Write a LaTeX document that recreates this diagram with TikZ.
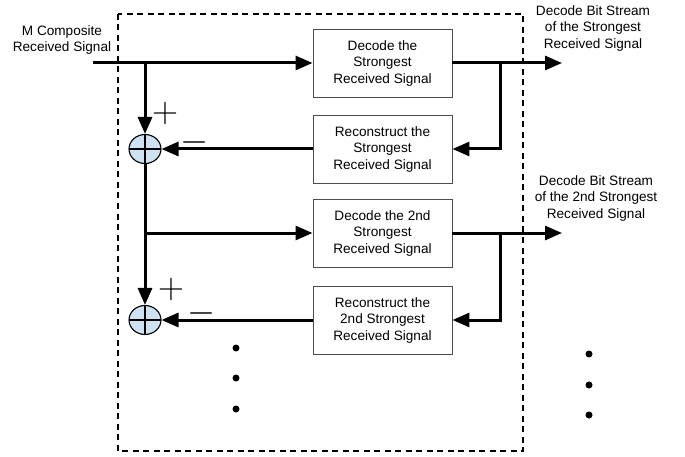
\documentclass[tikz,border=0pt]{standalone}
\usepackage{fontspec}
\setmainfont{Liberation Sans}
\usetikzlibrary{arrows.meta,shapes.geometric}

\definecolor{sumblue}{RGB}{207,226,243}

\tikzset{
  blk/.style={draw=black!70,line width=0.9pt,minimum width=139pt,minimum height=68pt,
    align=center,inner sep=2pt,font=\fontsize{13.6}{16.5}\selectfont},
  lbl/.style={align=center,font=\fontsize{13.6}{16.5}\selectfont},
  wire/.style={line width=3pt},
  sig/.style={wire,-{Triangle[length=17pt,width=14pt]}},
  adder/.style={ellipse,draw,line width=1.1pt,fill=sumblue,minimum width=32pt,minimum height=29pt,inner sep=0pt,
    path picture={\draw[line width=1.1pt] (path picture bounding box.north) -- (path picture bounding box.south)
      (path picture bounding box.west) -- (path picture bounding box.east);}},
  sgn/.style={inner sep=0pt,font=\fontsize{24.88}{25}\selectfont},
  dot/.style={circle,fill,inner sep=0pt,minimum size=7pt}
}

\begin{document}
\begin{tikzpicture}[x=1pt,y=-1pt]
\useasboundingbox (0,0) rectangle (685,457);

% dashed receiver boundary
\draw[line width=1.2pt,dash pattern=on 6pt off 4.5pt] (118,14) rectangle (523,451);

% blocks
\node[blk] (dec1) at (382.5,63) {Decode the\\Strongest\\Received Signal};
\node[blk] (rec1) at (382.5,149) {Reconstruct the\\Strongest\\Received Signal};
\node[blk] (dec2) at (382.5,233) {Decode the 2nd\\Strongest\\Received Signal};
\node[blk] (rec2) at (382.5,320) {Reconstruct the\\2nd Strongest\\Received Signal};

\node[adder] (sum1) at (145,149) {};
\node[adder] (sum2) at (145,320) {};

% labels
\node[lbl] (inlbl) at (62,40) {M Composite\\Received Signal};
\node[lbl] (out1lbl) at (593,28) {Decode Bit Stream\\of the Strongest\\Received Signal};
\node[lbl] (out2lbl) at (596,198) {Decode Bit Stream\\of the 2nd Strongest\\Received Signal};

\node[sgn] (plus1) at (165,113) {\scalebox{1.45}{$+$}};
\node[sgn] (minus1) at (195,142) {\scalebox{1.45}{$-$}};
\node[sgn] (plus2) at (171,289) {\scalebox{1.45}{$+$}};
\node[sgn] (minus2) at (202,313) {\scalebox{1.45}{$-$}};

% junctions and free ends
\coordinate (in) at (93,63);
\coordinate (tap1) at (145,63);
\coordinate (tap2) at (145,233);
\coordinate (tapA) at (500,63);
\coordinate (tapB) at (500,233);
\coordinate (out1) at (562,63);
\coordinate (out2) at (562,233);

% signal paths
\draw[sig] (in) -- (dec1);
\draw[sig] (tap1) -- (sum1);
\draw[sig] (dec1) -- (out1);
\draw[sig] (tapA) |- (rec1.east);
\draw[sig] (rec1) -- (sum1);
\draw[sig] (sum1) -- (sum2);
\draw[sig] (tap2) -- (dec2);
\draw[sig] (dec2) -- (out2);
\draw[sig] (tapB) |- (rec2.east);
\draw[sig] (rec2) -- (sum2);

% continuation dots
\foreach \yy [count=\i] in {348,378,409} {
  \node[dot] (din\i) at (236,\yy) {};
}
\foreach \yy [count=\i] in {354,385,415} {
  \node[dot] (dout\i) at (589,\yy) {};
}
\end{tikzpicture}
\end{document}
